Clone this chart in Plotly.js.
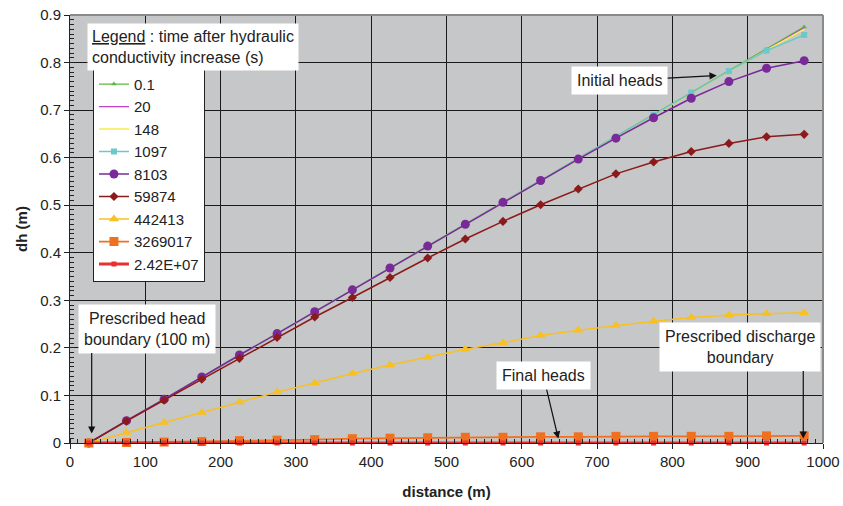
<!DOCTYPE html>
<html>
<head>
<meta charset="utf-8">
<script src="https://cdn.plot.ly/plotly-3.0.1.min.js"></script>
<style>html,body{margin:0;padding:0;background:#fff;}#chart{width:843px;height:506px;}</style>
</head>
<body>
<div id="chart"></div>
<script>
// distance (m) of each cell
const distance = [25,75,125,175,225,275,325,375,425,475,525,575,625,675,725,775,825,875,925,975];
// series names (time after hydraulic conductivity increase, s)
const seriesNames = ["0.1","20","148","1097","8103","59874","442413","3269017","2.42E+07"];
// dh (m) values for each series
const dh_0_1     = [0,0.046,0.092,0.138,0.184,0.230,0.276,0.322,0.368,0.414,0.460,0.506,0.552,0.598,0.644,0.690,0.736,0.782,0.828,0.875];
const dh_20      = [0,0.046,0.092,0.138,0.184,0.230,0.276,0.322,0.368,0.414,0.460,0.506,0.552,0.598,0.644,0.690,0.736,0.782,0.827,0.873];
const dh_148     = [0,0.046,0.092,0.138,0.184,0.230,0.276,0.322,0.368,0.414,0.460,0.506,0.552,0.598,0.644,0.690,0.736,0.781,0.826,0.870];
const dh_1097    = [0,0.046,0.092,0.138,0.184,0.230,0.276,0.322,0.368,0.414,0.460,0.506,0.552,0.598,0.644,0.690,0.737,0.782,0.825,0.858];
const dh_8103    = [0,0.047,0.092,0.139,0.185,0.230,0.276,0.322,0.368,0.414,0.460,0.506,0.552,0.597,0.641,0.684,0.725,0.760,0.788,0.804];
const dh_59874   = [0,0.046,0.090,0.134,0.178,0.222,0.265,0.306,0.348,0.389,0.429,0.466,0.501,0.534,0.566,0.591,0.613,0.630,0.644,0.649];
const dh_442413  = [0,0.022,0.043,0.064,0.086,0.107,0.126,0.146,0.164,0.180,0.197,0.211,0.226,0.237,0.247,0.256,0.264,0.269,0.272,0.274];
const dh_3269017 = [0,0.001,0.002,0.003,0.005,0.006,0.007,0.009,0.010,0.011,0.012,0.012,0.013,0.013,0.014,0.014,0.014,0.014,0.015,0.015];
const dh_2_42E7  = [0,0,0,0,0,0,0,0,0,0,0,0,0,0,0,0,0,0,0,0];
const xTicks = [0,100,200,300,400,500,600,700,800,900,1000];
const yTicks = [0,0.1,0.2,0.3,0.4,0.5,0.6,0.7,0.8,0.9];

const seriesValues = [dh_0_1,dh_20,dh_148,dh_1097,dh_8103,dh_59874,dh_442413,dh_3269017,dh_2_42E7];
const styles = [
  {color:'#5cb83c', width:1.2, mode:'lines+markers', symbol:'triangle-up', size:5},
  {color:'#c040c8', width:1.2, mode:'lines'},
  {color:'#f4ec50', width:1.5, mode:'lines'},
  {color:'#6ec8c8', width:1.5, mode:'lines+markers', symbol:'square', size:6},
  {color:'#7a2a98', width:1.5, mode:'lines+markers', symbol:'circle', size:9},
  {color:'#8c1a1a', width:1.5, mode:'lines+markers', symbol:'diamond', size:7},
  {color:'#f8c020', width:1.5, mode:'lines+markers', symbol:'triangle-up', size:9},
  {color:'#f07020', width:1.8, mode:'lines+markers', symbol:'square', size:9},
  {color:'#e83030', width:3,   mode:'lines+markers', symbol:'square', size:5}
];
const traces = seriesNames.map((n,i)=>{
  const s = styles[i];
  const t = {x:distance, y:seriesValues[i], name:n, type:'scatter', mode:s.mode,
    line:{color:s.color, width:s.width}, cliponaxis:false};
  if (s.symbol) t.marker = {symbol:s.symbol, size:s.size, color:s.color};
  return t;
});

const F = 'Liberation Sans, Arial, sans-serif';
const annFont = {family:F, size:16, color:'#222'};
const layout = {
  width:843, height:506,
  margin:{l:70, r:20, t:15, b:63, pad:0},
  paper_bgcolor:'#ffffff', plot_bgcolor:'#c6c7c9',
  font:{family:F, size:15, color:'#222'},
  showlegend:true,
  legend:{x:0.0305, y:0.879, xanchor:'left', yanchor:'top', bgcolor:'#ffffff',
    bordercolor:'#222', borderwidth:1, font:{family:F, size:15, color:'#222'}, tracegroupgap:0},
  xaxis:{range:[0,1000], tickvals:xTicks, ticks:'outside', ticklen:5, tickcolor:'#222',
    showgrid:true, gridcolor:'#1a1a1a', gridwidth:1, zeroline:false,
    showline:true, linecolor:'#222', linewidth:1,
    minor:{dtick:10, ticks:'inside', ticklen:4, tickcolor:'#222', showgrid:false},
    tickfont:{family:F, size:15, color:'#222'},
    title:{text:'<b>distance (m)</b>', font:{family:F, size:15, color:'#222'}, standoff:17}},
  yaxis:{range:[0,0.9], tickvals:yTicks, ticktext:yTicks.map(v=>String(v)), ticks:'outside', ticklen:5, tickcolor:'#222',
    showgrid:true, gridcolor:'#1a1a1a', gridwidth:1, zeroline:false,
    showline:true, linecolor:'#222', linewidth:1,
    minor:{dtick:0.01, ticks:'inside', ticklen:4, tickcolor:'#222', showgrid:false},
    tickfont:{family:F, size:15, color:'#222'},
    title:{text:'<b>dh (m)</b>', font:{family:F, size:15, color:'#222'}, standoff:8}},
  shapes:[
    {type:'line', xref:'paper', yref:'paper', x0:0, x1:1, y0:1, y1:1, line:{color:'#8a8a8a', width:2}},
    {type:'line', xref:'paper', yref:'paper', x0:1, x1:1, y0:0, y1:1, line:{color:'#8a8a8a', width:2}}
  ],
  annotations:[
    {xref:'paper', yref:'paper', x:0.0222, y:0.9813, xanchor:'left', yanchor:'top', align:'left',
     text:'<u>Legend</u> : time after hydraulic<br>conductivity increase (s)', showarrow:false,
     bgcolor:'#ffffff', borderpad:4, font:annFont},
    {xref:'x', yref:'y', x:858.8, y:0.7726, ax:-97, ay:5, text:'Initial heads',
     showarrow:true, arrowhead:2, arrowsize:1.2, arrowwidth:1.2, arrowcolor:'#111',
     bgcolor:'#ffffff', borderpad:5, font:annFont},
    {xref:'x', yref:'y', x:648.5, y:0.0093, ax:-15, ay:-63, text:'Final heads',
     showarrow:true, arrowhead:2, arrowsize:1.2, arrowwidth:1.2, arrowcolor:'#111',
     bgcolor:'#ffffff', borderpad:5, font:annFont},
    {xref:'x', yref:'y', x:(146.7-70)/0.753, y:(442.7-328.7)/475, text:'Prescribed head<br>boundary (100 m)',
     showarrow:false, bgcolor:'#ffffff', borderpad:5, font:annFont},
    {xref:'x', yref:'y', x:28.8, y:0.0198, ax:0, ay:-82, text:'', showarrow:true,
     arrowhead:2, arrowsize:1.2, arrowwidth:1.2, arrowcolor:'#111'},
    {xref:'x', yref:'y', x:(739.7-70)/0.753, y:(442.7-346.8)/475, text:'Prescribed discharge<br>boundary',
     showarrow:false, bgcolor:'#ffffff', borderpad:5, font:annFont},
    {xref:'x', yref:'y', x:973.8, y:0.0093, ax:0, ay:-69, text:'', showarrow:true,
     arrowhead:2, arrowsize:1.2, arrowwidth:1.2, arrowcolor:'#111'}
  ]
};
Plotly.newPlot('chart', traces, layout, {staticPlot:true, displayModeBar:false});
</script>
</body>
</html>
